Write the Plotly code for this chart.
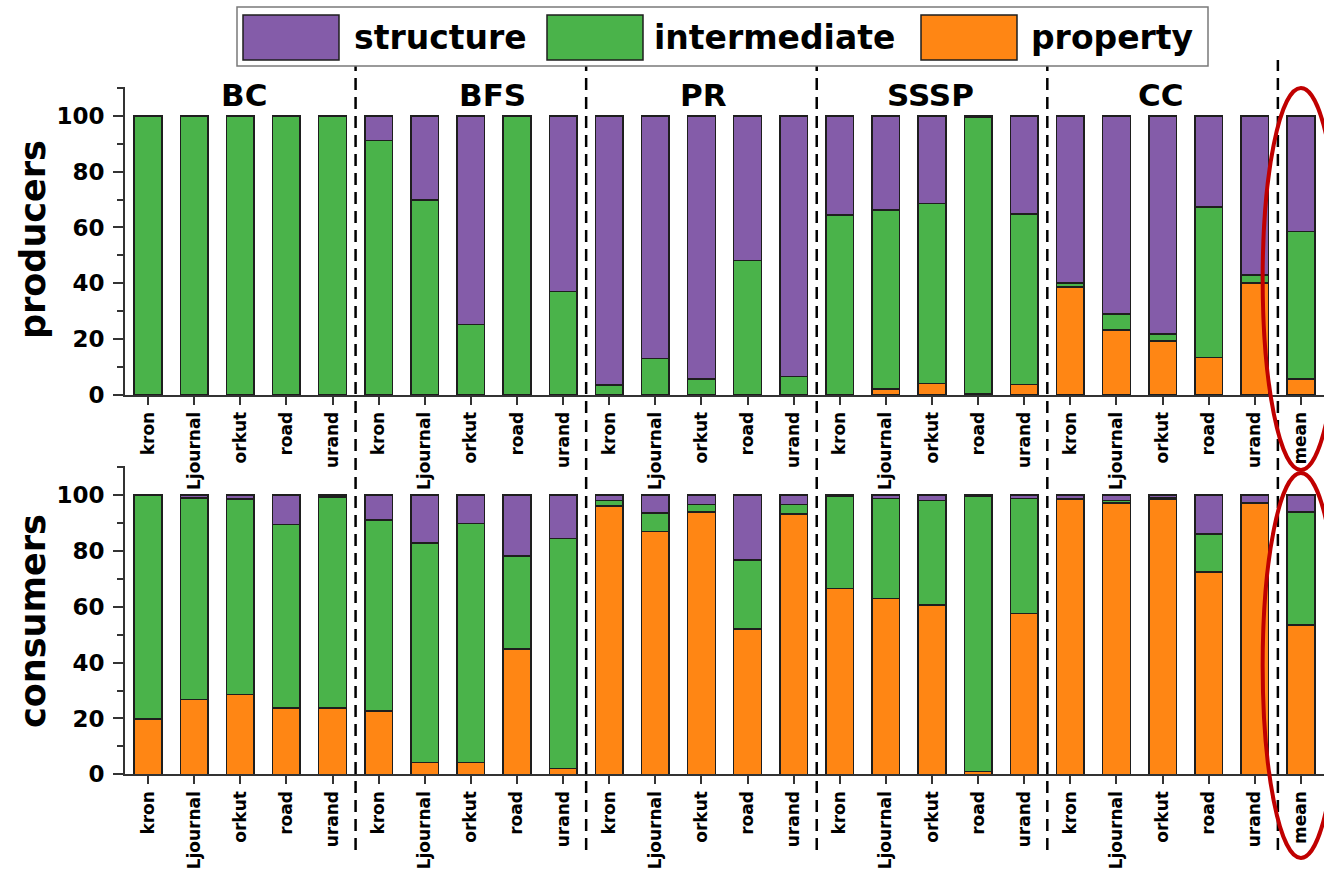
import plotly.graph_objects as go

# ---- data -----------------------------------------------------------------
groups = ["BC", "BFS", "PR", "SSSP", "CC"]
graphs = ["kron", "Ljournal", "orkut", "road", "urand"]
tick_labels = graphs * len(groups) + ["mean"]
x_pos = list(range(len(tick_labels)))

# producers (%)
prod_property = [0, 0, 0, 0, 0,
                 0, 0, 0, 0, 0,
                 0, 0, 0, 0, 0,
                 0, 2.1, 4.2, 0.6, 3.8,
                 38.7, 23.2, 19.3, 13.5, 40.1,
                 5.8]
prod_intermediate = [100, 100, 100, 100, 100,
                     91.1, 69.9, 25.2, 100, 37.1,
                     3.6, 13.0, 5.8, 48.1, 6.7,
                     64.5, 64.2, 64.3, 98.8, 61.1,
                     1.5, 5.8, 2.5, 53.8, 2.9,
                     52.8]
prod_structure = [0, 0, 0, 0, 0,
                  8.9, 30.1, 74.8, 0, 62.9,
                  96.4, 87.0, 94.2, 51.9, 93.3,
                  35.5, 33.7, 31.5, 0.6, 35.1,
                  59.8, 71.0, 78.2, 32.7, 57.0,
                  41.4]

# consumers (%)
cons_property = [19.8, 26.7, 28.5, 23.7, 23.7,
                 22.6, 4.3, 4.2, 44.8, 2.0,
                 96.0, 87.0, 94.0, 52.0, 93.2,
                 66.5, 62.9, 60.7, 1.0, 57.5,
                 98.4, 97.1, 98.5, 72.4, 97.0,
                 53.5]
cons_intermediate = [80.2, 72.2, 70.0, 65.8, 75.6,
                     68.5, 78.6, 85.6, 33.3, 82.5,
                     2.1, 6.6, 2.7, 24.8, 3.5,
                     33.1, 35.8, 37.3, 98.4, 41.3,
                     0.1, 1.0, 0.7, 13.7, 0.2,
                     40.4]
cons_structure = [0, 1.1, 1.5, 10.5, 0.7,
                  8.9, 17.1, 10.2, 21.9, 15.5,
                  1.9, 6.4, 3.3, 23.2, 3.3,
                  0.4, 1.3, 2.0, 0.6, 1.2,
                  1.5, 1.9, 0.8, 13.9, 2.8,
                  6.1]

series_names = ["structure", "intermediate", "property"]
y_ticks = [0, 20, 40, 60, 80, 100]

# ---- style ----------------------------------------------------------------
W, H = 1324, 870
ML = 125
FONT = "DejaVu Sans"
COLORS = {"structure": "#845CA9", "intermediate": "#4AB34A", "property": "#FF8614"}
EDGE = "#1e1e1e"
AXC = "#333333"


def px_x(p):
    return (p - ML) / (W - ML)


def px_y(p):
    return 1 - p / H


fig = go.Figure()

panels = [
    ("x", "y", {"property": prod_property, "intermediate": prod_intermediate,
                "structure": prod_structure}),
    ("x2", "y2", {"property": cons_property, "intermediate": cons_intermediate,
                  "structure": cons_structure}),
]
for xa, ya, data in panels:
    for name in ["property", "intermediate", "structure"]:
        fig.add_trace(go.Bar(
            x=x_pos, y=data[name], name=name, xaxis=xa, yaxis=ya,
            width=0.6, showlegend=False,
            marker=dict(color=COLORS[name], line=dict(color=EDGE, width=1.5)),
        ))

xaxis_common = dict(
    range=[-0.5, len(x_pos) - 0.5], tickmode="array", tickvals=x_pos,
    ticktext=tick_labels, tickangle=-90, ticks="outside", ticklen=8,
    tickwidth=2, tickcolor=AXC, showline=True, linecolor=AXC, linewidth=2,
    showgrid=False, zeroline=False, automargin=False,
    tickfont=dict(family=FONT, size=17, color="black", weight="bold"),
)
yaxis_common = dict(
    range=[0, 110.3], tickmode="array", tickvals=y_ticks, ticks="outside",
    ticklen=10, tickwidth=2, tickcolor=AXC, showline=True, linecolor=AXC,
    linewidth=2, showgrid=False, zeroline=False, ticklabelstandoff=4,
    automargin=False,
    minor=dict(tick0=0, dtick=10, ticks="outside", ticklen=6, tickwidth=1.5,
               tickcolor=AXC),
    tickfont=dict(family=FONT, size=23, color="black", weight="bold"),
)

fig.update_layout(
    width=W, height=H,
    margin=dict(l=ML, r=0, t=0, b=0, autoexpand=False),
    paper_bgcolor="white", plot_bgcolor="white",
    barmode="stack", bargap=0.4,
    font=dict(family=FONT, color="black"),
    xaxis=dict(domain=[0, 1], anchor="y", **xaxis_common),
    yaxis=dict(domain=[px_y(395), px_y(87)], anchor="x", **yaxis_common),
    xaxis2=dict(domain=[0, 1], anchor="y2", **xaxis_common),
    yaxis2=dict(domain=[px_y(774.3), px_y(466.3)], anchor="x2", **yaxis_common),
)

shapes = []
annotations = []

# dashed separators between benchmark groups
for k in range(1, len(groups) + 1):
    xs = 5 * k - 0.5
    shapes.append(dict(type="line", xref="x", yref="paper", x0=xs, x1=xs,
                       y0=px_y(850), y1=px_y(60),
                       line=dict(color="black", width=2.5, dash="12px,7px")))

# benchmark titles above the producers panel
title_x = [2.08, 7.47, 12.04, 16.96, 21.96]
for g, gx in zip(groups, title_x):
    annotations.append(dict(text=g, x=gx, y=107.3, xref="x", yref="y",
                            showarrow=False, xanchor="center", yanchor="middle",
                            font=dict(family=FONT, size=31, color="black",
                                      weight="bold")))

# row titles
for label, cy in [("producers", 240), ("consumers", 621)]:
    annotations.append(dict(text=label, x=px_x(33), y=px_y(cy), xref="paper",
                            yref="paper", showarrow=False, textangle=-90,
                            xanchor="center", yanchor="middle",
                            font=dict(family=FONT, size=35, color="black",
                                      weight="bold")))

# legend box with large swatches
shapes.append(dict(type="rect", xref="paper", yref="paper",
                   x0=px_x(237), x1=px_x(1208), y0=px_y(66), y1=px_y(7),
                   fillcolor="white", line=dict(color="#7a7a7a", width=1.5)))
legend_items = [("structure", 243, 352), ("intermediate", 547, 652),
                ("property", 921, 1029)]
for name, sx, tx in legend_items:
    shapes.append(dict(type="rect", xref="paper", yref="paper",
                       x0=px_x(sx), x1=px_x(sx + 96), y0=px_y(60), y1=px_y(15),
                       fillcolor=COLORS[name], line=dict(color=EDGE, width=1.5)))
    annotations.append(dict(text=name, x=px_x(tx), y=px_y(37), xref="paper",
                            yref="paper", showarrow=False, xanchor="left",
                            yanchor="middle",
                            font=dict(family=FONT, size=33, color="black",
                                      weight="bold")))

# red ellipses highlighting the mean bars
for y_top, y_bot in [(88, 470), (473, 858)]:
    shapes.append(dict(type="circle", xref="x", yref="paper",
                       x0=24.17, x1=25.83, y0=px_y(y_bot), y1=px_y(y_top),
                       line=dict(color="#C00000", width=4)))

fig.update_layout(shapes=shapes, annotations=annotations)
fig.write_html("out.html")
